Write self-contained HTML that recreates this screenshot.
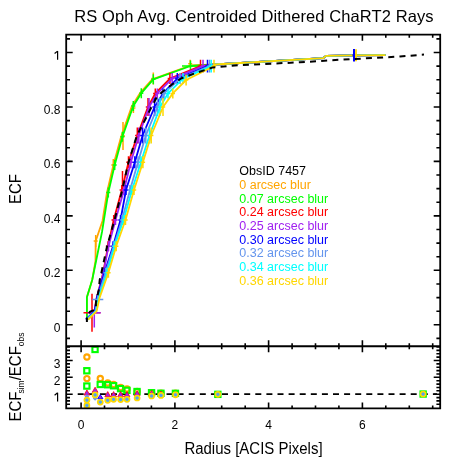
<!DOCTYPE html><html><head><meta charset="utf-8"><style>html,body{margin:0;padding:0;background:#fff;width:451px;height:467px;overflow:hidden}svg{display:block;will-change:transform}text{font-family:"Liberation Sans",sans-serif}</style></head><body>
<svg width="451" height="467" viewBox="0 0 451 467">
<rect width="451" height="467" fill="#fff"/>
<g>
<polyline points="86.9,319.5 86.9,297.3 92.2,280.0 95.5,261.0 95.7,241.0 102.5,221.0 107.0,192.5 113.4,165.0 121.1,136.8 132.0,105.9 140.0,93.2 152.2,79.3 190.5,65.5 215.0,64.5 323.0,58.2 326.0,55.9 354.6,55.3 385.6,55.2" fill="none" stroke="#ffa500" stroke-width="1.8" stroke-linejoin="round"/>
<path d="M95.7 235.0V247.0M93.7 241.0H97.7" stroke="#ffa500" stroke-width="1.5" fill="none"/>
<path d="M123.0 122.0V150.0M121.0 136.0H125.0" stroke="#ffa500" stroke-width="1.5" fill="none"/>
<path d="M113.3 159.0V171.0M111.3 165.0H115.3" stroke="#ffa500" stroke-width="1.5" fill="none"/>
<path d="M133.4 103.0V113.0M131.4 108.0H135.4" stroke="#ffa500" stroke-width="1.5" fill="none"/>
<path d="M153.3 72.6V84.6M151.3 78.6H155.3" stroke="#ffa500" stroke-width="1.5" fill="none"/>
<path d="M190.2 59.8V67.8M188.2 63.8H192.2" stroke="#ffa500" stroke-width="1.5" fill="none"/>
<polyline points="86.9,319.5 86.9,297.3 92.2,280.0 102.0,232.0 108.3,192.5 114.7,165.0 122.4,136.8 133.3,105.9 141.3,93.2 153.3,79.3 190.5,66.0 215.0,64.5 323.0,58.2 326.0,55.9 354.6,55.3 385.6,55.2" fill="none" stroke="#00ff00" stroke-width="1.8" stroke-linejoin="round"/>
<path d="M108.3 187.5V197.5M106.3 192.5H110.3" stroke="#00ff00" stroke-width="1.5" fill="none"/>
<path d="M114.7 160.0V170.0M112.7 165.0H116.7" stroke="#00ff00" stroke-width="1.5" fill="none"/>
<path d="M122.4 131.8V141.8M120.4 136.8H124.4" stroke="#00ff00" stroke-width="1.5" fill="none"/>
<path d="M133.3 100.9V110.9M131.3 105.9H135.3" stroke="#00ff00" stroke-width="1.5" fill="none"/>
<path d="M141.3 88.2V98.2M139.3 93.2H143.3" stroke="#00ff00" stroke-width="1.5" fill="none"/>
<path d="M153.3 74.3V84.3M151.3 79.3H155.3" stroke="#00ff00" stroke-width="1.5" fill="none"/>
<path d="M190.5 60.5V71.5M182.0 66.0H199.0" stroke="#00ff00" stroke-width="1.5" fill="none"/>
<polyline points="87.5,319.5 94.5,311.2 96.8,297.6 103.2,272.7 108.0,246.2 113.7,220.0 121.8,190.0 128.5,162.3 137.3,135.5 148.0,107.0 155.3,93.4 169.9,78.6 200.5,66.1 215.0,64.5 323.0,58.2 326.0,55.9 354.6,55.3 385.6,55.2" fill="none" stroke="#ff0000" stroke-width="1.8" stroke-linejoin="round"/>
<path d="M103.2 267.7V277.7M101.0 272.7H105.4" stroke="#ff0000" stroke-width="1.5" fill="none"/>
<path d="M108.0 241.2V251.2M105.8 246.2H110.2" stroke="#ff0000" stroke-width="1.5" fill="none"/>
<path d="M113.7 215.0V225.0M111.5 220.0H115.9" stroke="#ff0000" stroke-width="1.5" fill="none"/>
<path d="M121.8 185.0V195.0M119.6 190.0H124.0" stroke="#ff0000" stroke-width="1.5" fill="none"/>
<path d="M128.5 156.3V168.3M126.3 162.3H130.7" stroke="#ff0000" stroke-width="1.5" fill="none"/>
<path d="M137.3 127.5V143.5M135.1 135.5H139.5" stroke="#ff0000" stroke-width="1.5" fill="none"/>
<path d="M148.0 98.0V116.0M145.8 107.0H150.2" stroke="#ff0000" stroke-width="1.5" fill="none"/>
<path d="M155.3 88.4V98.4M153.1 93.4H157.5" stroke="#ff0000" stroke-width="1.5" fill="none"/>
<path d="M169.9 73.1V84.1M167.7 78.6H172.1" stroke="#ff0000" stroke-width="1.5" fill="none"/>
<path d="M200.5 59.8V72.4M198.3 66.1H202.7" stroke="#ff0000" stroke-width="1.5" fill="none"/>
<path d="M92.0 293.8V331.8M83.5 312.8H100.5" stroke="#ff0000" stroke-width="1.5" fill="none"/>
<path d="M122.5 171.0V186.0M122.0 178.5H123.0" stroke="#ff0000" stroke-width="1.5" fill="none"/>
<polyline points="87.5,319.5 94.8,311.2 97.0,297.6 103.5,272.7 108.5,246.2 115.5,220.0 124.0,190.0 130.8,162.3 138.8,135.5 149.0,107.0 157.3,93.4 172.2,78.6 203.0,66.1 215.0,64.5 323.0,58.2 326.0,55.9 354.6,55.3 385.6,55.2" fill="none" stroke="#a020f0" stroke-width="1.8" stroke-linejoin="round"/>
<path d="M103.5 267.7V277.7M101.3 272.7H105.7" stroke="#a020f0" stroke-width="1.5" fill="none"/>
<path d="M108.5 241.2V251.2M106.3 246.2H110.7" stroke="#a020f0" stroke-width="1.5" fill="none"/>
<path d="M115.5 215.0V225.0M113.3 220.0H117.7" stroke="#a020f0" stroke-width="1.5" fill="none"/>
<path d="M124.0 185.0V195.0M121.8 190.0H126.2" stroke="#a020f0" stroke-width="1.5" fill="none"/>
<path d="M130.8 156.3V168.3M128.6 162.3H133.0" stroke="#a020f0" stroke-width="1.5" fill="none"/>
<path d="M138.8 127.5V143.5M136.6 135.5H141.0" stroke="#a020f0" stroke-width="1.5" fill="none"/>
<path d="M149.0 98.0V116.0M146.8 107.0H151.2" stroke="#a020f0" stroke-width="1.5" fill="none"/>
<path d="M157.3 88.4V98.4M155.1 93.4H159.5" stroke="#a020f0" stroke-width="1.5" fill="none"/>
<path d="M172.2 73.1V84.1M170.0 78.6H174.4" stroke="#a020f0" stroke-width="1.5" fill="none"/>
<path d="M203.0 59.8V72.4M200.8 66.1H205.2" stroke="#a020f0" stroke-width="1.5" fill="none"/>
<path d="M94.3 311V327.6M87.7 312.8H100.7" stroke="#a020f0" stroke-width="1.5" fill="none"/>
<polyline points="85.8,319.5 94.6,311.2 96.8,297.6 104.5,272.7 113.0,246.2 120.5,220.0 126.0,190.0 134.8,162.3 142.6,135.5 154.6,107.0 163.0,93.4 177.3,78.6 207.5,66.1 215.0,64.5 323.0,58.2 326.0,55.9 354.6,55.3 385.6,55.2" fill="none" stroke="#0000ff" stroke-width="1.8" stroke-linejoin="round"/>
<path d="M104.5 267.7V277.7M102.3 272.7H106.7" stroke="#0000ff" stroke-width="1.5" fill="none"/>
<path d="M113.0 241.2V251.2M110.8 246.2H115.2" stroke="#0000ff" stroke-width="1.5" fill="none"/>
<path d="M120.5 215.0V225.0M118.3 220.0H122.7" stroke="#0000ff" stroke-width="1.5" fill="none"/>
<path d="M126.0 185.0V195.0M123.8 190.0H128.2" stroke="#0000ff" stroke-width="1.5" fill="none"/>
<path d="M134.8 156.3V168.3M132.6 162.3H137.0" stroke="#0000ff" stroke-width="1.5" fill="none"/>
<path d="M142.6 127.5V143.5M140.4 135.5H144.8" stroke="#0000ff" stroke-width="1.5" fill="none"/>
<path d="M154.6 98.0V116.0M152.4 107.0H156.8" stroke="#0000ff" stroke-width="1.5" fill="none"/>
<path d="M163.0 88.4V98.4M160.8 93.4H165.2" stroke="#0000ff" stroke-width="1.5" fill="none"/>
<path d="M177.3 73.1V84.1M175.1 78.6H179.5" stroke="#0000ff" stroke-width="1.5" fill="none"/>
<path d="M207.5 59.8V72.4M205.3 66.1H209.7" stroke="#0000ff" stroke-width="1.5" fill="none"/>
<polyline points="86.6,319.5 95.4,311.2 97.8,297.6 105.5,272.7 113.8,246.2 122.0,220.0 130.0,190.0 138.0,162.3 145.8,135.5 157.5,107.0 164.0,93.4 180.0,78.6 209.5,66.1 215.0,64.5 323.0,58.2 326.0,55.9 354.6,55.3 385.6,55.2" fill="none" stroke="#6495ed" stroke-width="1.8" stroke-linejoin="round"/>
<path d="M105.5 267.7V277.7M103.3 272.7H107.7" stroke="#6495ed" stroke-width="1.5" fill="none"/>
<path d="M113.8 241.2V251.2M111.6 246.2H116.0" stroke="#6495ed" stroke-width="1.5" fill="none"/>
<path d="M122.0 215.0V225.0M119.8 220.0H124.2" stroke="#6495ed" stroke-width="1.5" fill="none"/>
<path d="M130.0 185.0V195.0M127.8 190.0H132.2" stroke="#6495ed" stroke-width="1.5" fill="none"/>
<path d="M138.0 156.3V168.3M135.8 162.3H140.2" stroke="#6495ed" stroke-width="1.5" fill="none"/>
<path d="M145.8 127.5V143.5M143.6 135.5H148.0" stroke="#6495ed" stroke-width="1.5" fill="none"/>
<path d="M157.5 98.0V116.0M155.3 107.0H159.7" stroke="#6495ed" stroke-width="1.5" fill="none"/>
<path d="M164.0 88.4V98.4M161.8 93.4H166.2" stroke="#6495ed" stroke-width="1.5" fill="none"/>
<path d="M180.0 73.1V84.1M177.8 78.6H182.2" stroke="#6495ed" stroke-width="1.5" fill="none"/>
<path d="M209.5 59.8V72.4M207.3 66.1H211.7" stroke="#6495ed" stroke-width="1.5" fill="none"/>
<path d="M97.8 294.1V305.1M92.3 299.6H103.3" stroke="#6495ed" stroke-width="1.5" fill="none"/>
<polyline points="87.4,319.5 96.0,311.2 98.7,297.6 107.0,272.7 114.5,246.2 123.5,220.0 132.0,190.0 140.9,162.3 149.5,135.5 160.0,107.0 168.0,93.4 183.0,78.6 211.2,66.1 215.0,64.5 323.0,58.2 326.0,55.9 354.6,55.3 385.6,55.2" fill="none" stroke="#00ffff" stroke-width="1.8" stroke-linejoin="round"/>
<path d="M107.0 267.7V277.7M104.8 272.7H109.2" stroke="#00ffff" stroke-width="1.5" fill="none"/>
<path d="M114.5 241.2V251.2M112.3 246.2H116.7" stroke="#00ffff" stroke-width="1.5" fill="none"/>
<path d="M123.5 215.0V225.0M121.3 220.0H125.7" stroke="#00ffff" stroke-width="1.5" fill="none"/>
<path d="M132.0 185.0V195.0M129.8 190.0H134.2" stroke="#00ffff" stroke-width="1.5" fill="none"/>
<path d="M140.9 156.3V168.3M138.7 162.3H143.1" stroke="#00ffff" stroke-width="1.5" fill="none"/>
<path d="M149.5 127.5V143.5M147.3 135.5H151.7" stroke="#00ffff" stroke-width="1.5" fill="none"/>
<path d="M160.0 98.0V116.0M157.8 107.0H162.2" stroke="#00ffff" stroke-width="1.5" fill="none"/>
<path d="M168.0 88.4V98.4M165.8 93.4H170.2" stroke="#00ffff" stroke-width="1.5" fill="none"/>
<path d="M183.0 73.1V84.1M180.8 78.6H185.2" stroke="#00ffff" stroke-width="1.5" fill="none"/>
<path d="M211.2 59.8V72.4M209.0 66.1H213.4" stroke="#00ffff" stroke-width="1.5" fill="none"/>
<polyline points="88.2,319.5 96.6,311.2 99.6,297.6 108.4,272.7 116.2,246.2 125.5,220.0 134.0,190.0 142.9,162.3 151.2,135.5 163.0,107.0 172.8,93.4 186.1,80.0 214.0,66.1 215.0,64.5 323.0,58.2 326.0,55.9 354.6,55.3 385.6,55.2" fill="none" stroke="#ffd700" stroke-width="1.8" stroke-linejoin="round"/>
<path d="M108.4 267.7V277.7M106.2 272.7H110.6" stroke="#ffd700" stroke-width="1.5" fill="none"/>
<path d="M116.2 241.2V251.2M114.0 246.2H118.4" stroke="#ffd700" stroke-width="1.5" fill="none"/>
<path d="M125.5 215.0V225.0M123.3 220.0H127.7" stroke="#ffd700" stroke-width="1.5" fill="none"/>
<path d="M134.0 185.0V195.0M131.8 190.0H136.2" stroke="#ffd700" stroke-width="1.5" fill="none"/>
<path d="M142.9 156.3V168.3M140.7 162.3H145.1" stroke="#ffd700" stroke-width="1.5" fill="none"/>
<path d="M151.2 127.5V143.5M149.0 135.5H153.4" stroke="#ffd700" stroke-width="1.5" fill="none"/>
<path d="M163.0 98.0V116.0M160.8 107.0H165.2" stroke="#ffd700" stroke-width="1.5" fill="none"/>
<path d="M172.8 88.4V98.4M170.6 93.4H175.0" stroke="#ffd700" stroke-width="1.5" fill="none"/>
<path d="M186.1 74.5V85.5M183.9 80.0H188.3" stroke="#ffd700" stroke-width="1.5" fill="none"/>
<path d="M214.0 59.8V72.4M211.8 66.1H216.2" stroke="#ffd700" stroke-width="1.5" fill="none"/>
<path d="M354.0 49.0V61.6M352.5 55.3H355.5" stroke="#0000ff" stroke-width="2.0" fill="none"/>
<path d="M356.0 49.3V61.3M355.0 55.3H357.0" stroke="#ffd700" stroke-width="1.8" fill="none"/>
</g>
<polyline points="86.9,322.0 86.9,315.5 90.1,311.7 95.9,309.3 95.9,302.5 98.8,290.0 99.7,280.0 101.4,272.7 107.1,246.2 114.5,220.0 122.3,190.0 128.5,162.3 136.9,135.5 146.0,118.0 151.5,107.0 156.6,97.5 162.1,92.0 172.7,84.0 181.6,78.2 195.0,73.3 213.0,67.4 240.0,65.1 300.0,62.3 330.0,60.3 400.0,56.5 424.0,54.6" fill="none" stroke="#000" stroke-width="2.0" stroke-linejoin="round" stroke-dasharray="6,5.2" stroke-dashoffset="1.6"/>
<line x1="77.7" y1="394.2" x2="437.0" y2="394.2" stroke="#000" stroke-width="1.8" stroke-dasharray="6,5.1"/>
<circle cx="86.9" cy="357.0" r="2.65" fill="none" stroke="#ffa500" stroke-width="2.1"/>
<rect x="84.2" y="368.1" width="5.3" height="5.3" fill="none" stroke="#00ff00" stroke-width="2.1"/>
<circle cx="86.9" cy="378.6" r="2.65" fill="none" stroke="#ffa500" stroke-width="2.1"/>
<rect x="84.2" y="383.4" width="5.3" height="5.3" fill="none" stroke="#00ff00" stroke-width="2.1"/>
<path d="M86.9 389.9L89.8 395.1L84.0 395.1Z" fill="#a020f0" stroke="#ff0000" stroke-width="0.8" stroke-linejoin="round"/>
<path d="M86.9 394.2l2.3 2.3l-2.3 2.3l-2.3 -2.3z" fill="#6495ed"/>
<circle cx="86.9" cy="400.1" r="2.45" fill="#00ffff" stroke="#ffd700" stroke-width="1.8"/><circle cx="86.9" cy="400.1" r="1.2" fill="#6495ed" stroke="#6495ed" stroke-width="0.6"/>
<circle cx="86.9" cy="405.4" r="2.45" fill="#00ffff" stroke="#ffd700" stroke-width="1.8"/><circle cx="86.9" cy="405.4" r="1.2" fill="#6495ed" stroke="#6495ed" stroke-width="0.6"/>
<rect x="92.4" y="346.8" width="5.3" height="5.3" fill="none" stroke="#00ff00" stroke-width="2.1"/>
<path d="M95.1 387.2L98.0 392.4L92.2 392.4Z" fill="#a020f0" stroke="#ff0000" stroke-width="0.8" stroke-linejoin="round"/>
<path d="M95.1 396.2l2.3 2.3l-2.3 2.3l-2.3 -2.3z" fill="#6495ed"/>
<circle cx="95.1" cy="394.9" r="2.45" fill="#00ffff" stroke="#ffd700" stroke-width="1.8"/><circle cx="95.1" cy="394.9" r="1.2" fill="#6495ed" stroke="#6495ed" stroke-width="0.6"/>
<circle cx="100.3" cy="378.5" r="2.65" fill="none" stroke="#ffa500" stroke-width="2.1"/>
<rect x="97.6" y="381.8" width="5.3" height="5.3" fill="none" stroke="#00ff00" stroke-width="2.1"/>
<path d="M100.3 394.8L102.9 398.6L97.7 398.6Z" fill="#a020f0" stroke="#0000ff" stroke-width="0.9"/>
<circle cx="100.3" cy="402.1" r="2.45" fill="#00ffff" stroke="#ffd700" stroke-width="1.8"/><circle cx="100.3" cy="402.1" r="1.2" fill="#6495ed" stroke="#6495ed" stroke-width="0.6"/>
<circle cx="107.7" cy="383.0" r="2.65" fill="none" stroke="#ffa500" stroke-width="2.1"/>
<rect x="105.0" y="382.1" width="5.3" height="5.3" fill="none" stroke="#00ff00" stroke-width="2.1"/>
<path d="M107.7 391.6L110.6 396.8L104.8 396.8Z" fill="#a020f0" stroke="#ff0000" stroke-width="0.8" stroke-linejoin="round"/>
<circle cx="107.7" cy="400.3" r="2.45" fill="#00ffff" stroke="#ffd700" stroke-width="1.8"/><circle cx="107.7" cy="400.3" r="1.2" fill="#6495ed" stroke="#6495ed" stroke-width="0.6"/>
<circle cx="113.6" cy="384.5" r="2.65" fill="none" stroke="#ffa500" stroke-width="2.1"/>
<rect x="110.9" y="383.1" width="5.3" height="5.3" fill="none" stroke="#00ff00" stroke-width="2.1"/>
<path d="M113.6 391.6L116.5 396.8L110.7 396.8Z" fill="#a020f0" stroke="#ff0000" stroke-width="0.8" stroke-linejoin="round"/>
<circle cx="113.6" cy="399.3" r="2.45" fill="#00ffff" stroke="#ffd700" stroke-width="1.8"/><circle cx="113.6" cy="399.3" r="1.2" fill="#6495ed" stroke="#6495ed" stroke-width="0.6"/>
<circle cx="120.6" cy="387.5" r="2.65" fill="none" stroke="#ffa500" stroke-width="2.1"/>
<rect x="117.9" y="386.0" width="5.3" height="5.3" fill="none" stroke="#00ff00" stroke-width="2.1"/>
<path d="M120.6 391.6L123.5 396.8L117.7 396.8Z" fill="#a020f0" stroke="#ff0000" stroke-width="0.8" stroke-linejoin="round"/>
<circle cx="120.6" cy="399.6" r="2.45" fill="#00ffff" stroke="#ffd700" stroke-width="1.8"/><circle cx="120.6" cy="399.6" r="1.2" fill="#6495ed" stroke="#6495ed" stroke-width="0.6"/>
<circle cx="127.0" cy="389.0" r="2.65" fill="none" stroke="#ffa500" stroke-width="2.1"/>
<rect x="124.3" y="387.7" width="5.3" height="5.3" fill="none" stroke="#00ff00" stroke-width="2.1"/>
<path d="M127.0 391.6L129.9 396.8L124.1 396.8Z" fill="#a020f0" stroke="#ff0000" stroke-width="0.8" stroke-linejoin="round"/>
<circle cx="127.0" cy="399.3" r="2.45" fill="#00ffff" stroke="#ffd700" stroke-width="1.8"/><circle cx="127.0" cy="399.3" r="1.2" fill="#6495ed" stroke="#6495ed" stroke-width="0.6"/>
<circle cx="137.1" cy="391.5" r="2.65" fill="none" stroke="#ffa500" stroke-width="2.1"/>
<rect x="134.4" y="388.9" width="5.3" height="5.3" fill="none" stroke="#00ff00" stroke-width="2.1"/>
<path d="M137.1 390.6L140.0 395.8L134.2 395.8Z" fill="#a020f0" stroke="#ff0000" stroke-width="0.8" stroke-linejoin="round"/>
<circle cx="137.1" cy="398.0" r="2.45" fill="#00ffff" stroke="#ffd700" stroke-width="1.8"/><circle cx="137.1" cy="398.0" r="1.2" fill="#6495ed" stroke="#6495ed" stroke-width="0.6"/>
<circle cx="151.6" cy="392.7" r="2.65" fill="none" stroke="#ffa500" stroke-width="2.1"/>
<rect x="148.9" y="390.1" width="5.3" height="5.3" fill="none" stroke="#00ff00" stroke-width="2.1"/>
<path d="M151.6 390.4L154.5 395.6L148.7 395.6Z" fill="#a020f0" stroke="#ff0000" stroke-width="0.8" stroke-linejoin="round"/>
<circle cx="151.6" cy="396.0" r="2.45" fill="#00ffff" stroke="#ffd700" stroke-width="1.8"/><circle cx="151.6" cy="396.0" r="1.2" fill="#6495ed" stroke="#6495ed" stroke-width="0.6"/>
<circle cx="161.0" cy="393.2" r="2.65" fill="none" stroke="#ffa500" stroke-width="2.1"/>
<rect x="158.3" y="390.6" width="5.3" height="5.3" fill="none" stroke="#00ff00" stroke-width="2.1"/>
<path d="M161.0 391.0L163.9 396.2L158.1 396.2Z" fill="#a020f0" stroke="#ff0000" stroke-width="0.8" stroke-linejoin="round"/>
<circle cx="161.0" cy="395.4" r="2.45" fill="#00ffff" stroke="#ffd700" stroke-width="1.8"/><circle cx="161.0" cy="395.4" r="1.2" fill="#6495ed" stroke="#6495ed" stroke-width="0.6"/>
<circle cx="175.5" cy="393.3" r="2.65" fill="none" stroke="#ffa500" stroke-width="2.1"/>
<rect x="172.8" y="390.7" width="5.3" height="5.3" fill="none" stroke="#00ff00" stroke-width="2.1"/>
<path d="M175.5 392.3L178.1 396.1L172.9 396.1Z" fill="#a020f0" stroke="#0000ff" stroke-width="0.9"/>
<circle cx="175.5" cy="394.8" r="2.45" fill="#00ffff" stroke="#ffd700" stroke-width="1.8"/><circle cx="175.5" cy="394.8" r="1.2" fill="#6495ed" stroke="#6495ed" stroke-width="0.6"/>
<rect x="215.2" y="391.7" width="5.3" height="5.3" fill="none" stroke="#00ff00" stroke-width="2.1"/>
<circle cx="217.9" cy="394.3" r="2.45" fill="#00ffff" stroke="#ffd700" stroke-width="1.8"/><circle cx="217.9" cy="394.3" r="1.2" fill="#6495ed" stroke="#6495ed" stroke-width="0.6"/>
<rect x="420.5" y="391.4" width="5.3" height="5.3" fill="none" stroke="#00ff00" stroke-width="2.1"/>
<circle cx="423.1" cy="394.0" r="2.45" fill="#00ffff" stroke="#ffd700" stroke-width="1.8"/><circle cx="423.1" cy="394.0" r="1.2" fill="#6495ed" stroke="#6495ed" stroke-width="0.6"/>
<path d="M66.2 34.7H440.2V408.4H66.2Z" fill="none" stroke="#000" stroke-width="1.8"/>
<line x1="66.2" y1="346.2" x2="440.2" y2="346.2" stroke="#000" stroke-width="2"/>
<path d="M81.1 34.7v6.0M81.1 346.2v-6.0M81.1 346.2v6.0M81.1 408.4v-6.0M104.5 34.7v3.0M104.5 346.2v-3.0M104.5 346.2v3.0M104.5 408.4v-3.0M128.0 34.7v3.0M128.0 346.2v-3.0M128.0 346.2v3.0M128.0 408.4v-3.0M151.4 34.7v3.0M151.4 346.2v-3.0M151.4 346.2v3.0M151.4 408.4v-3.0M174.9 34.7v6.0M174.9 346.2v-6.0M174.9 346.2v6.0M174.9 408.4v-6.0M198.3 34.7v3.0M198.3 346.2v-3.0M198.3 346.2v3.0M198.3 408.4v-3.0M221.7 34.7v3.0M221.7 346.2v-3.0M221.7 346.2v3.0M221.7 408.4v-3.0M245.2 34.7v3.0M245.2 346.2v-3.0M245.2 346.2v3.0M245.2 408.4v-3.0M268.6 34.7v6.0M268.6 346.2v-6.0M268.6 346.2v6.0M268.6 408.4v-6.0M292.1 34.7v3.0M292.1 346.2v-3.0M292.1 346.2v3.0M292.1 408.4v-3.0M315.5 34.7v3.0M315.5 346.2v-3.0M315.5 346.2v3.0M315.5 408.4v-3.0M338.9 34.7v3.0M338.9 346.2v-3.0M338.9 346.2v3.0M338.9 408.4v-3.0M362.4 34.7v6.0M362.4 346.2v-6.0M362.4 346.2v6.0M362.4 408.4v-6.0M385.8 34.7v3.0M385.8 346.2v-3.0M385.8 346.2v3.0M385.8 408.4v-3.0M409.3 34.7v3.0M409.3 346.2v-3.0M409.3 346.2v3.0M409.3 408.4v-3.0M432.7 34.7v3.0M432.7 346.2v-3.0M432.7 346.2v3.0M432.7 408.4v-3.0M66.2 338.4h3.8M440.2 338.4h-3.8M66.2 324.8h6.5M440.2 324.8h-6.5M66.2 311.2h3.8M440.2 311.2h-3.8M66.2 297.6h3.8M440.2 297.6h-3.8M66.2 284.0h3.8M440.2 284.0h-3.8M66.2 270.3h6.5M440.2 270.3h-6.5M66.2 256.7h3.8M440.2 256.7h-3.8M66.2 243.1h3.8M440.2 243.1h-3.8M66.2 229.5h3.8M440.2 229.5h-3.8M66.2 215.9h6.5M440.2 215.9h-6.5M66.2 202.3h3.8M440.2 202.3h-3.8M66.2 188.6h3.8M440.2 188.6h-3.8M66.2 175.0h3.8M440.2 175.0h-3.8M66.2 161.4h6.5M440.2 161.4h-6.5M66.2 147.8h3.8M440.2 147.8h-3.8M66.2 134.2h3.8M440.2 134.2h-3.8M66.2 120.6h3.8M440.2 120.6h-3.8M66.2 107.0h6.5M440.2 107.0h-6.5M66.2 93.3h3.8M440.2 93.3h-3.8M66.2 79.7h3.8M440.2 79.7h-3.8M66.2 66.1h3.8M440.2 66.1h-3.8M66.2 52.5h6.5M440.2 52.5h-6.5M66.2 38.9h3.8M440.2 38.9h-3.8M66.2 404.3h3.8M440.2 404.3h-3.8M66.2 400.9h3.8M440.2 400.9h-3.8M66.2 397.6h3.8M440.2 397.6h-3.8M66.2 394.2h6.5M440.2 394.2h-6.5M66.2 390.8h3.8M440.2 390.8h-3.8M66.2 387.5h3.8M440.2 387.5h-3.8M66.2 384.1h3.8M440.2 384.1h-3.8M66.2 380.7h3.8M440.2 380.7h-3.8M66.2 377.3h6.5M440.2 377.3h-6.5M66.2 374.0h3.8M440.2 374.0h-3.8M66.2 370.6h3.8M440.2 370.6h-3.8M66.2 367.2h3.8M440.2 367.2h-3.8M66.2 363.9h3.8M440.2 363.9h-3.8M66.2 360.5h6.5M440.2 360.5h-6.5M66.2 357.1h3.8M440.2 357.1h-3.8M66.2 353.8h3.8M440.2 353.8h-3.8M66.2 350.4h3.8M440.2 350.4h-3.8M66.2 347.0h3.8M440.2 347.0h-3.8" stroke="#000" stroke-width="1.6" fill="none"/>
<text x="74.3" y="21.6" font-size="16.5" letter-spacing="0.095">RS Oph Avg. Centroided Dithered ChaRT2 Rays</text>
<path d="M57.6 51.1V59.8M57.6 51.1L54.6 53.5" stroke="#000" stroke-width="1.2" fill="none"/>
<path d="M57.6 392.8V401.5M57.6 392.8L54.6 395.2" stroke="#000" stroke-width="1.2" fill="none"/>
<text x="60.5" y="114.0" font-size="12" text-anchor="end">0.8</text>
<text x="60.5" y="168.4" font-size="12" text-anchor="end">0.6</text>
<text x="60.5" y="222.9" font-size="12" text-anchor="end">0.4</text>
<text x="60.5" y="277.3" font-size="12" text-anchor="end">0.2</text>
<text x="60.5" y="331.8" font-size="12" text-anchor="end">0</text>
<text x="60.5" y="367.8" font-size="12" text-anchor="end">3</text>
<text x="60.5" y="384.6" font-size="12" text-anchor="end">2</text>
<text x="81.1" y="428.8" font-size="12" text-anchor="middle">0</text>
<text x="174.9" y="428.8" font-size="12" text-anchor="middle">2</text>
<text x="268.6" y="428.8" font-size="12" text-anchor="middle">4</text>
<text x="362.4" y="428.8" font-size="12" text-anchor="middle">6</text>
<text transform="translate(253.5,453.5) scale(1,1.07)" font-size="15" text-anchor="middle">Radius [ACIS Pixels]</text>
<text transform="translate(20.8,189) rotate(-90) scale(1,1.07)" font-size="15" text-anchor="middle">ECF</text>
<text transform="translate(20.8,377) rotate(-90) scale(1,1.07)" font-size="15" text-anchor="middle">ECF<tspan font-size="8.5" dy="3" dx="-2">sim</tspan><tspan dy="-3">/ECF</tspan><tspan font-size="8.5" dy="3">obs</tspan></text>
<text x="239.3" y="175.1" font-size="12.5" fill="#000">ObsID 7457</text>
<text x="239.3" y="188.8" font-size="12.5" fill="#ffa500">0 arcsec blur</text>
<text x="239.3" y="202.5" font-size="12.5" fill="#00ff00">0.07 arcsec blur</text>
<text x="239.3" y="216.2" font-size="12.5" fill="#ff0000">0.24 arcsec blur</text>
<text x="239.3" y="229.9" font-size="12.5" fill="#a020f0">0.25 arcsec blur</text>
<text x="239.3" y="243.6" font-size="12.5" fill="#0000ff">0.30 arcsec blur</text>
<text x="239.3" y="257.3" font-size="12.5" fill="#6495ed">0.32 arcsec blur</text>
<text x="239.3" y="271.0" font-size="12.5" fill="#00ffff">0.34 arcsec blur</text>
<text x="239.3" y="284.7" font-size="12.5" fill="#ffd700">0.36 arcsec blur</text>
</svg></body></html>
